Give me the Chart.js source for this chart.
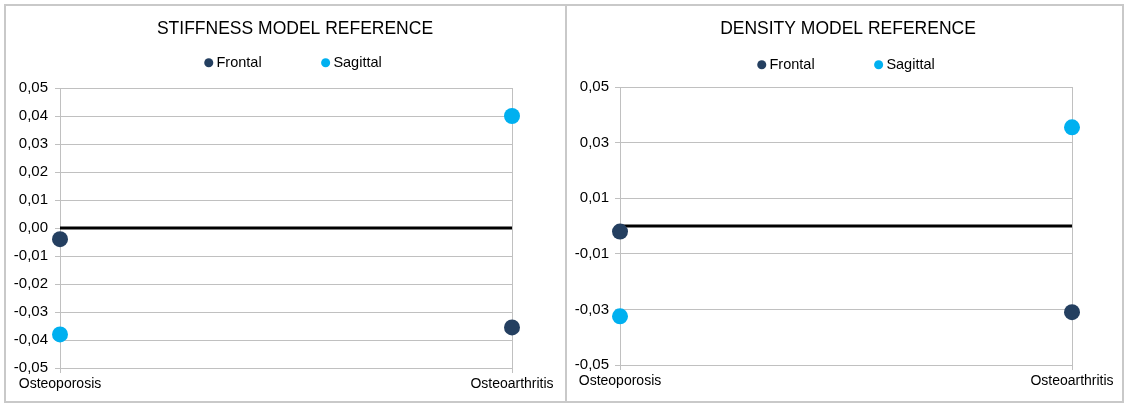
<!DOCTYPE html>
<html>
<head>
<meta charset="utf-8">
<script src="https://cdn.jsdelivr.net/npm/chart.js@4.4.1/dist/chart.umd.min.js"></script>
<style>
    body { margin: 0; background: #fff; overflow: hidden; width: 1125px; height: 405px; position: relative; }
    .panel { position: absolute; top: 4px; height: 399px; border: 2px solid #c9c9c9; box-sizing: border-box; }
    canvas { position: absolute; top: 0; }
</style>
</head>
<body>
<div class="panel" style="left:4px; width:563px;"></div>
<div class="panel" style="left:565px; width:559px;"></div>
<canvas id="stiffness" width="590" height="405" style="left:0;"></canvas>
<canvas id="density" width="564" height="405" style="left:566px;"></canvas>
<script>
// values
const categories = ['Osteoporosis', 'Osteoarthritis'];
const seriesNames = ['Frontal', 'Sagittal'];
const stiffnessFrontal = [-0.004, -0.0355];
const stiffnessSagittal = [-0.038, 0.040];
const densityFrontal = [-0.002, -0.031];
const densitySagittal = [-0.0325, 0.0355];
const zeroLine = [0, 0];
const stiffnessStep = 0.01;
const densityStep = 0.02;

const frontalColor = '#243F60';
const sagittalColor = '#00B0F0';
const gridColor = '#c0c0c0';
const fontFamily = '"Liberation Sans", Arial, sans-serif';

// legend items are far apart in the original, so the legend gets a big padding
// and is then pulled back up / shrunk to fit
const legendShift = {
    id: 'legendShift',
    beforeInit(chart, args, opts) {
        const legend = chart.legend;
        const fit = legend.fit;
        legend.fit = function () {
            fit.call(this);
            this.height = opts.height;
        };
        const draw = legend.draw;
        legend.draw = function () {
            const top = this.top;
            this.top = top - opts.shift;
            draw.call(this);
            this.top = top;
        };
    }
};

function formatTick(value) {
    return (Math.round(value * 100) / 100 || 0).toFixed(2).replace('.', ',');
}

function buildChart(id, title, frontal, sagittal, step, box) {
    return new Chart(document.getElementById(id), {
        type: 'line',
        data: {
            labels: categories,
            datasets: [
                {
                    label: seriesNames[0],
                    data: frontal,
                    showLine: false,
                    pointRadius: 8,
                    pointHoverRadius: 8,
                    pointBorderWidth: 0,
                    backgroundColor: frontalColor,
                    borderColor: frontalColor
                },
                {
                    label: seriesNames[1],
                    data: sagittal,
                    showLine: false,
                    pointRadius: 8,
                    pointHoverRadius: 8,
                    pointBorderWidth: 0,
                    backgroundColor: sagittalColor,
                    borderColor: sagittalColor
                },
                {
                    label: 'zero',
                    data: zeroLine,
                    borderColor: '#000',
                    borderWidth: 3,
                    pointRadius: 0
                }
            ]
        },
        options: {
            responsive: false,
            animation: false,
            layout: { padding: 0 },
            plugins: {
                title: {
                    display: true,
                    text: title,
                    color: '#000',
                    font: { family: fontFamily, size: 17.5, weight: 'normal' },
                    padding: { top: 18.5, bottom: 4 }
                },
                legend: {
                    labels: {
                        usePointStyle: true,
                        pointStyle: 'circle',
                        boxWidth: 1,
                        boxHeight: 6.4,
                        padding: 63.5,
                        color: '#000',
                        font: { family: fontFamily, size: 14.5 },
                        filter: item => item.text !== 'zero'
                    }
                },
                legendShift: { height: box.legendHeight, shift: box.legendShift },
                tooltip: { enabled: false }
            },
            scales: {
                x: {
                    grid: { color: gridColor, tickLength: 5 },
                    border: { color: gridColor },
                    ticks: {
                        color: '#000',
                        font: { family: fontFamily, size: 14 },
                        maxRotation: 0,
                        autoSkip: false,
                        padding: 3
                    },
                    afterFit: s => { s.height = box.xHeight; }
                },
                y: {
                    min: -0.05,
                    max: 0.05,
                    grid: { color: gridColor, tickLength: 5 },
                    border: { color: gridColor },
                    ticks: {
                        stepSize: step,
                        padding: box.tickPad,
                        color: '#000',
                        font: { family: fontFamily, size: 15 },
                        callback: formatTick
                    },
                    afterFit: s => { s.width = box.yWidth; }
                },
                // empty right axis, only there to keep title and legend centred like the original
                y2: {
                    position: 'right',
                    grid: { display: false },
                    border: { display: false },
                    ticks: { display: false },
                    afterFit: s => { s.width = box.rightWidth; }
                }
            }
        },
        plugins: [legendShift]
    });
}

buildChart('stiffness', 'STIFFNESS MODEL REFERENCE', stiffnessFrontal, stiffnessSagittal, stiffnessStep, {
    yWidth: 60, rightWidth: 78, xHeight: 37, legendHeight: 44.5, legendShift: 51.5, tickPad: 7
});
buildChart('density', 'DENSITY MODEL REFERENCE', densityFrontal, densitySagittal, densityStep, {
    yWidth: 54, rightWidth: 58, xHeight: 40, legendHeight: 43.5, legendShift: 49.5, tickPad: 6
});
</script>
</body>
</html>
